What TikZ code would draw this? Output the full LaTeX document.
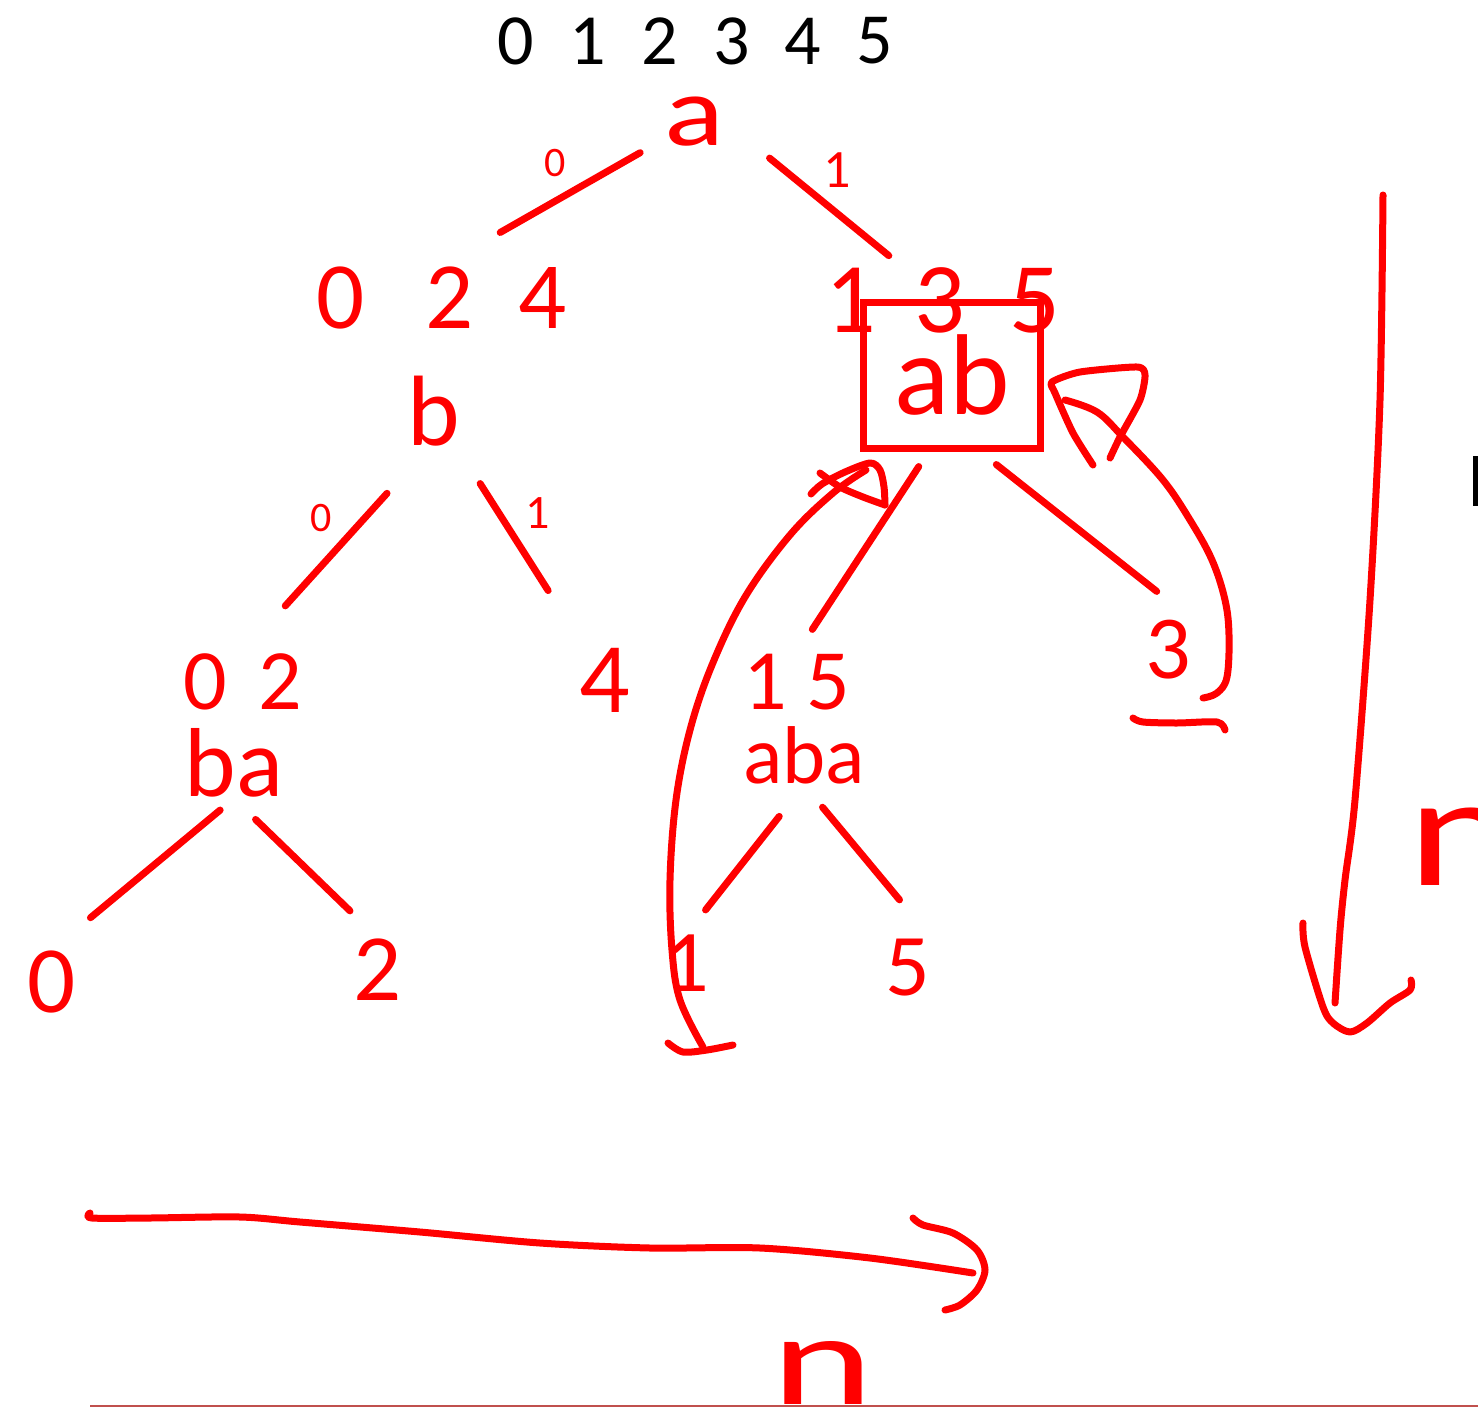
\documentclass[tikz,border=0pt]{standalone}
\usepackage{fontspec}
\setmainfont{Carlito}
\usetikzlibrary{arrows.meta,calc}
\newcommand{\fsz}[1]{\fontsize{#1}{#1}\selectfont}
\definecolor{linie}{RGB}{192,80,77}

\begin{document}
\begin{tikzpicture}[x=1pt,y=-1pt,
  stift/.style={red, line width=7pt, line cap=round, line join=round},
  txt/.style={red, inner sep=1pt},
]

% ---------- Rahmen (Pixelmasse) ----------
\useasboundingbox (0,0) rectangle (1478,1408);

% ---------- Indizes oben ----------
\foreach \d in {0,...,5}
  \node[inner sep=1pt, font=\fsz{72}] (idx\d) at ({516+71.8*\d},41) {\d};

% ===================
% Knoten des Baums
% ===================
\node[txt, font=\fsz{100}, xscale=1.25] (a) at (694,122) {a};
\node[txt, font=\fsz{95}] (l024) at (442,298) {0\hskip60.8pt 2\hskip44.8pt 4};
\node[txt, font=\fsz{100}] (l135) at (943,300) {1\hskip38.3pt 3\hskip44.3pt 5};
\node[txt, font=\fsz{100}] (b) at (434,411) {b};
\node[txt, draw=red, line width=7pt, minimum width=177pt, minimum height=146pt,
  font=\fsz{115}] (ab) at (952,375) {ab};
\node[txt, font=\fsz{86}] (l02) at (243,682) {0\hskip31.4pt 2};
\node[txt, font=\fsz{100}] (l4) at (605,680) {4};
\node[txt, font=\fsz{86}] (l15) at (797,682) {1\hskip19.4pt 5};
\node[txt, font=\fsz{90}] (l3) at (1168,650) {3};
\node[txt, font=\fsz{98}] (ba) at (234,763) {ba};
\node[txt, font=\fsz{82}] (aba) at (804,755) {aba};
\node[txt, font=\fsz{95}] (leaf0) at (52,982) {0};
\node[txt, font=\fsz{95}] (leaf2) at (378,970) {2};
\node[txt, font=\fsz{88}] (leaf1) at (687,963) {1};
\node[txt, font=\fsz{88}] (leaf5) at (908,968) {5};

% Kantenbeschriftungen
\node[txt, font=\fsz{42}] (k0a) at (555,163) {0};
\node[txt, font=\fsz{54}] (k1a) at (837,170) {1};
\node[txt, font=\fsz{42}] (k0b) at (321,518) {0};
\node[txt, font=\fsz{48}] (k1b) at (538,513) {1};

% ===================
% Kanten
% ===================
\draw[stift, shorten <=62pt, shorten >=67pt] (a.center) -- (l024.north);
\draw[stift, shorten <=57pt, shorten >=70pt] (a.east) -- (l135.center);
\draw[stift, shorten <=111pt, shorten >=63pt] (b.east) -- (l02.north);
\draw[stift, shorten <=86pt, shorten >=106pt] (b.center) -- (l4.center);
\draw[stift, shorten <=18pt, shorten >=28pt] (ab.-107) -- (l15.north);
\draw[stift, shorten <=21pt, shorten >=45pt] (ab.-70) -- (l3.north east);
\draw[stift, shorten <=18pt, shorten >=50pt] (ba.south) -- (leaf0.north);
\draw[stift, shorten <=30pt, shorten >=39pt] (ba.south) -- (leaf2.north);
\draw[stift, shorten <=40pt, shorten >=30pt] (aba.south) -- (leaf1.north);
\draw[stift, shorten <=29pt, shorten >=50pt] (aba.south) -- (leaf5.north east);

% ---------- Rueckspruenge zu ab ----------
\draw[stift] plot[smooth, tension=.6] coordinates {(703,1047) (680,1000) (672,950)
  (670,880) (676,800) (690,730) (712,665) (745,597) (790,535) (833,493) (866,470)};
\draw[stift] plot[smooth] coordinates {(811,494) (822,484) (845,472) (870,463)
  (880,470) (884,487) (885,505)};
\draw[stift] plot[smooth] coordinates {(820,473) (840,487) (863,497) (885,505)};
\draw[stift] plot[smooth] coordinates {(668,1043) (683,1052) (707,1050) (733,1045)};

\draw[stift] plot[smooth, tension=.6] coordinates {(1203,698) (1217,693) (1227,677)
  (1229,635) (1225,600) (1212,560) (1190,520) (1163,480) (1123,437) (1097,412) (1065,400)};
\draw[stift] plot[smooth, tension=.4] coordinates {(1093,465) (1073,433) (1055,393)
  (1052,382) (1080,372) (1137,367) (1145,375) (1140,400) (1120,437) (1110,458)};
\draw[stift] plot[smooth] coordinates {(1133,718) (1143,722) (1177,723) (1217,722) (1225,730)};

% ---------- Pfeil nach unten (Tiefe) ----------
\draw[stift] plot[smooth] coordinates {(1383,195) (1380,400) (1370,600) (1355,800)
  (1345,880) (1340,930) (1335,1003)};
\draw[stift] plot[smooth, tension=.5] coordinates {(1303,923) (1305,947) (1323,1007)
  (1333,1023) (1350,1032) (1367,1023) (1390,1003) (1410,990) (1411,980)};
\node[txt, font=\fsz{160}, xscale=1.3] (ntief) at (1462,847) {n};

% ---------- Pfeil nach rechts (Laenge) ----------
\draw[stift] plot[smooth] coordinates {(90,1213) (92,1218) (150,1218) (240,1217)
  (300,1222) (420,1232) (540,1243) (650,1248) (760,1248) (870,1258) (973,1273)};
\draw[stift] plot[smooth, tension=.5] coordinates {(913,1218) (923,1225) (953,1233)
  (977,1250) (985,1270) (977,1290) (960,1305) (945,1310)};
\node[txt, font=\fsz{130}, xscale=1.5] (nlang) at (823,1373) {n};

% Rest am Rand
\fill (1473,456) rectangle (1480,506);
\draw[linie, line width=2pt] (90,1406) -- (1478,1406);

\end{tikzpicture}
\end{document}
